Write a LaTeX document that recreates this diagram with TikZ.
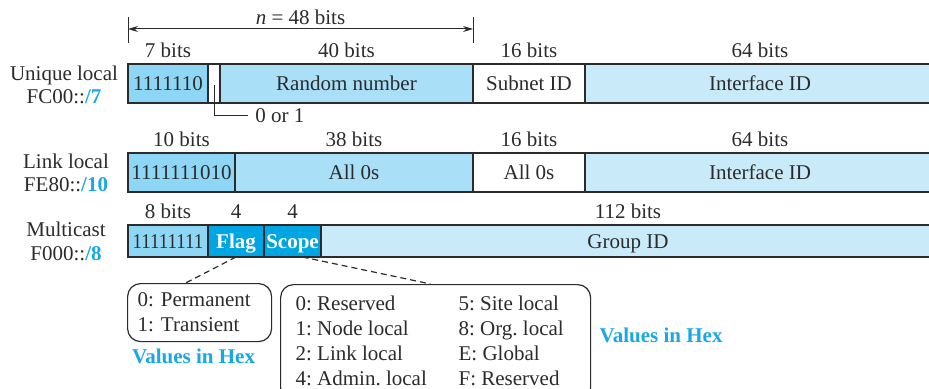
\documentclass[tikz,border=0pt]{standalone}
\usepackage{fontspec}
\usepackage{graphicx}
\setmainfont{Liberation Serif}
\usetikzlibrary{arrows.meta,positioning,calc}
\frenchspacing
\definecolor{Ink}{HTML}{2B2B2B}
\definecolor{Prefix}{HTML}{8ED6F5}
\definecolor{Mid}{HTML}{A9DFF7}
\definecolor{Pale}{HTML}{C8EAF9}
\definecolor{FlagBlue}{HTML}{00A6E4}
\definecolor{Hex}{HTML}{1AA7E6}
\tikzset{
  field/.style={draw=Ink, fill=#1, line width=0.6pt, minimum height=19.5pt, inner sep=0pt, outer sep=0pt, text=Ink, text height=7.2pt, text depth=0pt},
  field/.default=white,
  keyfield/.style={field=FlagBlue, text=white, font=\fontsize{10.5}{12.5}\selectfont\bfseries},
  bitlbl/.style={inner sep=0pt, text=Ink},
  rowlbl/.style={align=center, inner sep=0pt, text=Ink, font=\fontsize{10.5}{11.75}\selectfont},
  valbox/.style={draw=Ink, line width=0.6pt, rounded corners=6.5pt, inner ysep=0pt, align=left, anchor=north west, text=Ink},
  hexlbl/.style={text=Hex, font=\fontsize{10.5}{12.5}\selectfont\bfseries, inner sep=0pt},
  lead/.style={draw=Ink, line width=0.5pt},
  dimarrow/.style={{Stealth[length=5pt,width=3pt]}-{Stealth[length=5pt,width=3pt]}, draw=Ink, line width=0.5pt},
  dashlead/.style={draw=Ink, line width=0.6pt, dash pattern=on 3pt off 2pt}
}
\begin{document}
\begin{tikzpicture}[x=0.5pt, y=-0.5pt, font=\fontsize{10.5}{12.5}\selectfont, node distance=0pt]
  \useasboundingbox (0,0) rectangle (929,389);
  \clip (0,0) rectangle (929,389);

  % unique local
  \node[field=Prefix, minimum width=40pt, anchor=north west] (ua) at (128,64) {1111110};
  \node[field, minimum width=6pt, right=of ua] (ub) {};
  \node[field=Mid, minimum width=126.5pt, right=of ub] (uc) {Random number};
  \node[field, minimum width=56pt, right=of uc] (ud) {Subnet ID};
  \node[field=Pale, minimum width=175pt, right=of ud] (ue) {Interface ID};
  \node[bitlbl, above=3pt of ua] (bua) {7 bits};
  \node[bitlbl, above=3pt of uc] (buc) {40 bits};
  \node[bitlbl, above=3pt of ud] (bud) {16 bits};
  \node[bitlbl, above=3pt of ue] (bue) {64 bits};
  \node[rowlbl] (ul) at (64,85) {Unique local\\FC00::\textcolor{Hex}{\textbf{/7}}};

  \coordinate (nl) at (128,29);
  \coordinate (nr) at (473,29);
  \draw[lead] ([yshift=6pt]nl) -- ([yshift=-7pt]nl);
  \draw[lead] ([yshift=6pt]nr) -- ([yshift=-7pt]nr);
  \draw[dimarrow] (nl) -- node[above=2pt, inner sep=0pt, text=Ink] (nlab) {\textit{n} = 48 bits} (nr);

  \node[bitlbl, anchor=west] (zo) at (255,116) {0 or 1};
  \draw[lead] ([yshift=-1pt]ub.center) |- ([xshift=-3.5pt]zo.west);

  % link local
  \node[field=Prefix, minimum width=53.5pt, anchor=north west] (la) at (128,153) {1111111010};
  \node[field=Mid, minimum width=119pt, right=of la] (lb) {All 0s};
  \node[field, minimum width=56pt, right=of lb] (lc) {All 0s};
  \node[field=Pale, minimum width=175pt, right=of lc] (ld) {Interface ID};
  \node[bitlbl, above=3pt of la] (bla) {10 bits};
  \node[bitlbl, above=3pt of lb] (blb) {38 bits};
  \node[bitlbl, above=3pt of lc] (blc) {16 bits};
  \node[bitlbl, above=3pt of ld] (bld) {64 bits};
  \node[rowlbl] (ll) at (66,173) {Link local\\FE80::\textcolor{Hex}{\textbf{/10}}};

  % multicast
  \node[field=Prefix, minimum width=40pt, minimum height=16pt, anchor=north west] (ma) at (128,225) {\scalebox{0.9}[1]{11111111}};
  \node[keyfield, minimum width=28pt, minimum height=16pt, right=of ma] (mf) {Flag};
  \node[keyfield, minimum width=28.5pt, minimum height=16pt, right=of mf] (ms) {Scope};
  \node[field=Pale, minimum width=307pt, minimum height=16pt, right=of ms] (mg) {Group ID};
  \node[bitlbl, above=3pt of ma] (bma) {8 bits};
  \node[bitlbl, above=3pt of mf] (bmf) {4};
  \node[bitlbl, above=3pt of ms] (bms) {4};
  \node[bitlbl, above=3pt of mg] (bmg) {112 bits};
  \node[rowlbl] (ml) at (66,241.5) {Multicast\\F000::\textcolor{Hex}{\textbf{/8}}};

  % value tables
  \node[valbox, inner xsep=5pt, text width=62pt, minimum height=29pt] (fv) at (127,283) {0: Permanent\\1: Transient};
  \node[valbox, inner xsep=7.5pt, minimum height=58pt] (sv) at (280,284) {%
    \begin{tabular}{@{}p{81.5pt}@{}p{58.5pt}@{}}
      0: Reserved & 5: Site local\\
      1: Node local & 8: Org. local\\
      2: Link local & E: Global\\
      4: Admin. local & F: Reserved
    \end{tabular}};
  \draw[dashlead] (mf.south) -- ([xshift=-7pt]fv.north);
  \draw[dashlead] ([xshift=5pt]ms.south) -- ([xshift=-2.5pt]sv.north);
  \node[hexlbl, below=3pt of fv, xshift=-3pt] (hx1) {Values in Hex};
  \node[hexlbl, right=4pt of sv, yshift=3.5pt] (hx2) {Values in Hex};
\end{tikzpicture}
\end{document}
